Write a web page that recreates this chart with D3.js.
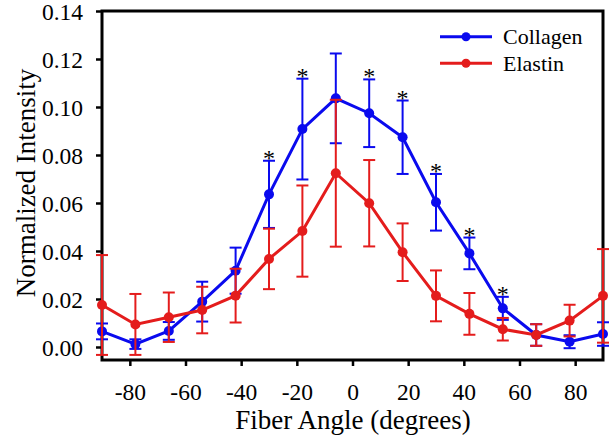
<!DOCTYPE html>
<html><head><meta charset="utf-8">
<script src="https://cdn.jsdelivr.net/npm/d3@7"></script>
<style>body{margin:0;background:#fff}svg{display:block}</style>
</head><body><svg id="c" width="612" height="437"></svg>
<script>
const angles = [-90,-78,-66,-54,-42,-30,-18,-6,6,18,30,42,54,66,78,90];
const collagen = [0.0065,0.0012,0.0067,0.0189,0.0318,0.0636,0.0908,0.1036,0.0974,0.0874,0.0603,0.0390,0.0161,0.0050,0.0022,0.0054];
const collagenErr = [0.0033,0.0020,0.0037,0.0083,0.0096,0.0140,0.0210,0.0187,0.0141,0.0153,0.0118,0.0066,0.0048,0.0045,0.0027,0.0049];
const elastin = [0.0175,0.0094,0.0124,0.0154,0.0214,0.0367,0.0483,0.0724,0.0599,0.0395,0.0213,0.0138,0.0074,0.0050,0.0110,0.0213];
const elastinErr = [0.0208,0.0127,0.0103,0.0097,0.0112,0.0126,0.0190,0.0306,0.0180,0.0120,0.0106,0.0087,0.0047,0.0045,0.0066,0.0195];
const significant = [-30,-18,6,18,30,42,54];
const xTicks = [-80,-60,-40,-20,0,20,40,60,80];
const yTicks = [0,0.02,0.04,0.06,0.08,0.10,0.12,0.14];
const seriesNames = ["Collagen","Elastin"];
const colors = ["#0a0aee","#e41c1c"];

const FONT = "Liberation Serif";
const svg = d3.select("#c");
const L=102,R=603,T=11,B=360;
const x = d3.scaleLinear().domain([-90,90]).range([L,R]);
const y = d3.scaleLinear().domain([-0.00542,0.14]).range([B,T]);

// axes
const xa = svg.append("g").attr("transform",`translate(0,${B})`)
  .call(d3.axisBottom(x).tickValues(xTicks).tickSize(6).tickPadding(17).tickFormat(d=>d));
const ya = svg.append("g").attr("transform",`translate(${L},0)`)
  .call(d3.axisLeft(y).tickValues(yTicks).tickSize(6).tickPadding(13).tickFormat(d3.format(".2f")));
[xa,ya].forEach(g=>{
  g.attr("font-family",FONT).attr("font-size",23.5);
  g.select(".domain").remove();
  g.selectAll(".tick line").attr("stroke","#000").attr("stroke-width",2.5);
  g.selectAll(".tick text").attr("fill","#000").attr("font-family",FONT).attr("font-size",23.5);
});
xa.selectAll(".tick text").attr("dy","0.71em");
ya.selectAll(".tick text").attr("dy","0.38em");

svg.append("rect").attr("x",L).attr("y",T).attr("width",R-L).attr("height",B-T)
  .attr("fill","none").attr("stroke","#000").attr("stroke-width",3);

const series = [
  {vals:collagen, err:collagenErr, color:colors[0]},
  {vals:elastin, err:elastinErr, color:colors[1]}
];
const line = d3.line().x(d=>x(d[0])).y(d=>y(d[1]));
series.forEach(s=>{
  const g = svg.append("g");
  const pts = angles.map((a,i)=>[a,s.vals[i],s.err[i]]);
  g.append("path").datum(pts).attr("d",line).attr("fill","none")
    .attr("stroke",s.color).attr("stroke-width",3);
  pts.forEach(p=>{
    const cx=x(p[0]), yt=y(p[1]+p[2]), yb=y(p[1]-p[2]);
    g.append("line").attr("x1",cx).attr("x2",cx).attr("y1",yt).attr("y2",yb)
      .attr("stroke",s.color).attr("stroke-width",2);
    [yt,yb].forEach(yy=>g.append("line").attr("x1",cx-6).attr("x2",cx+6)
      .attr("y1",yy).attr("y2",yy).attr("stroke",s.color).attr("stroke-width",2));
    g.append("circle").attr("cx",cx).attr("cy",y(p[1])).attr("r",5).attr("fill",s.color);
  });
});

// significance asterisks
significant.forEach(a=>{
  const i = angles.indexOf(a);
  svg.append("text").attr("x",x(a)).attr("y",y(collagen[i]+collagenErr[i])+5)
    .attr("text-anchor","middle").attr("font-family",FONT).attr("font-size",24).attr("fill","#000").text("*");
});

// legend
seriesNames.forEach((n,i)=>{
  const yy = 36.7 + i*26.6;
  svg.append("line").attr("x1",440).attr("x2",492).attr("y1",yy).attr("y2",yy)
    .attr("stroke",colors[i]).attr("stroke-width",3);
  svg.append("circle").attr("cx",466).attr("cy",yy).attr("r",4.5).attr("fill",colors[i]);
  svg.append("text").attr("x",503).attr("y",yy).attr("dy","0.33em")
    .attr("font-family",FONT).attr("font-size",22).attr("fill","#000").text(n);
});

// axis titles
svg.append("text").attr("x",353).attr("y",429).attr("text-anchor","middle")
  .attr("font-family",FONT).attr("font-size",27).text("Fiber Angle (degrees)");
svg.append("text").attr("transform","translate(35,183) rotate(-90)").attr("text-anchor","middle")
  .attr("font-family",FONT).attr("font-size",27).text("Normalized Intensity");
</script></body></html>
